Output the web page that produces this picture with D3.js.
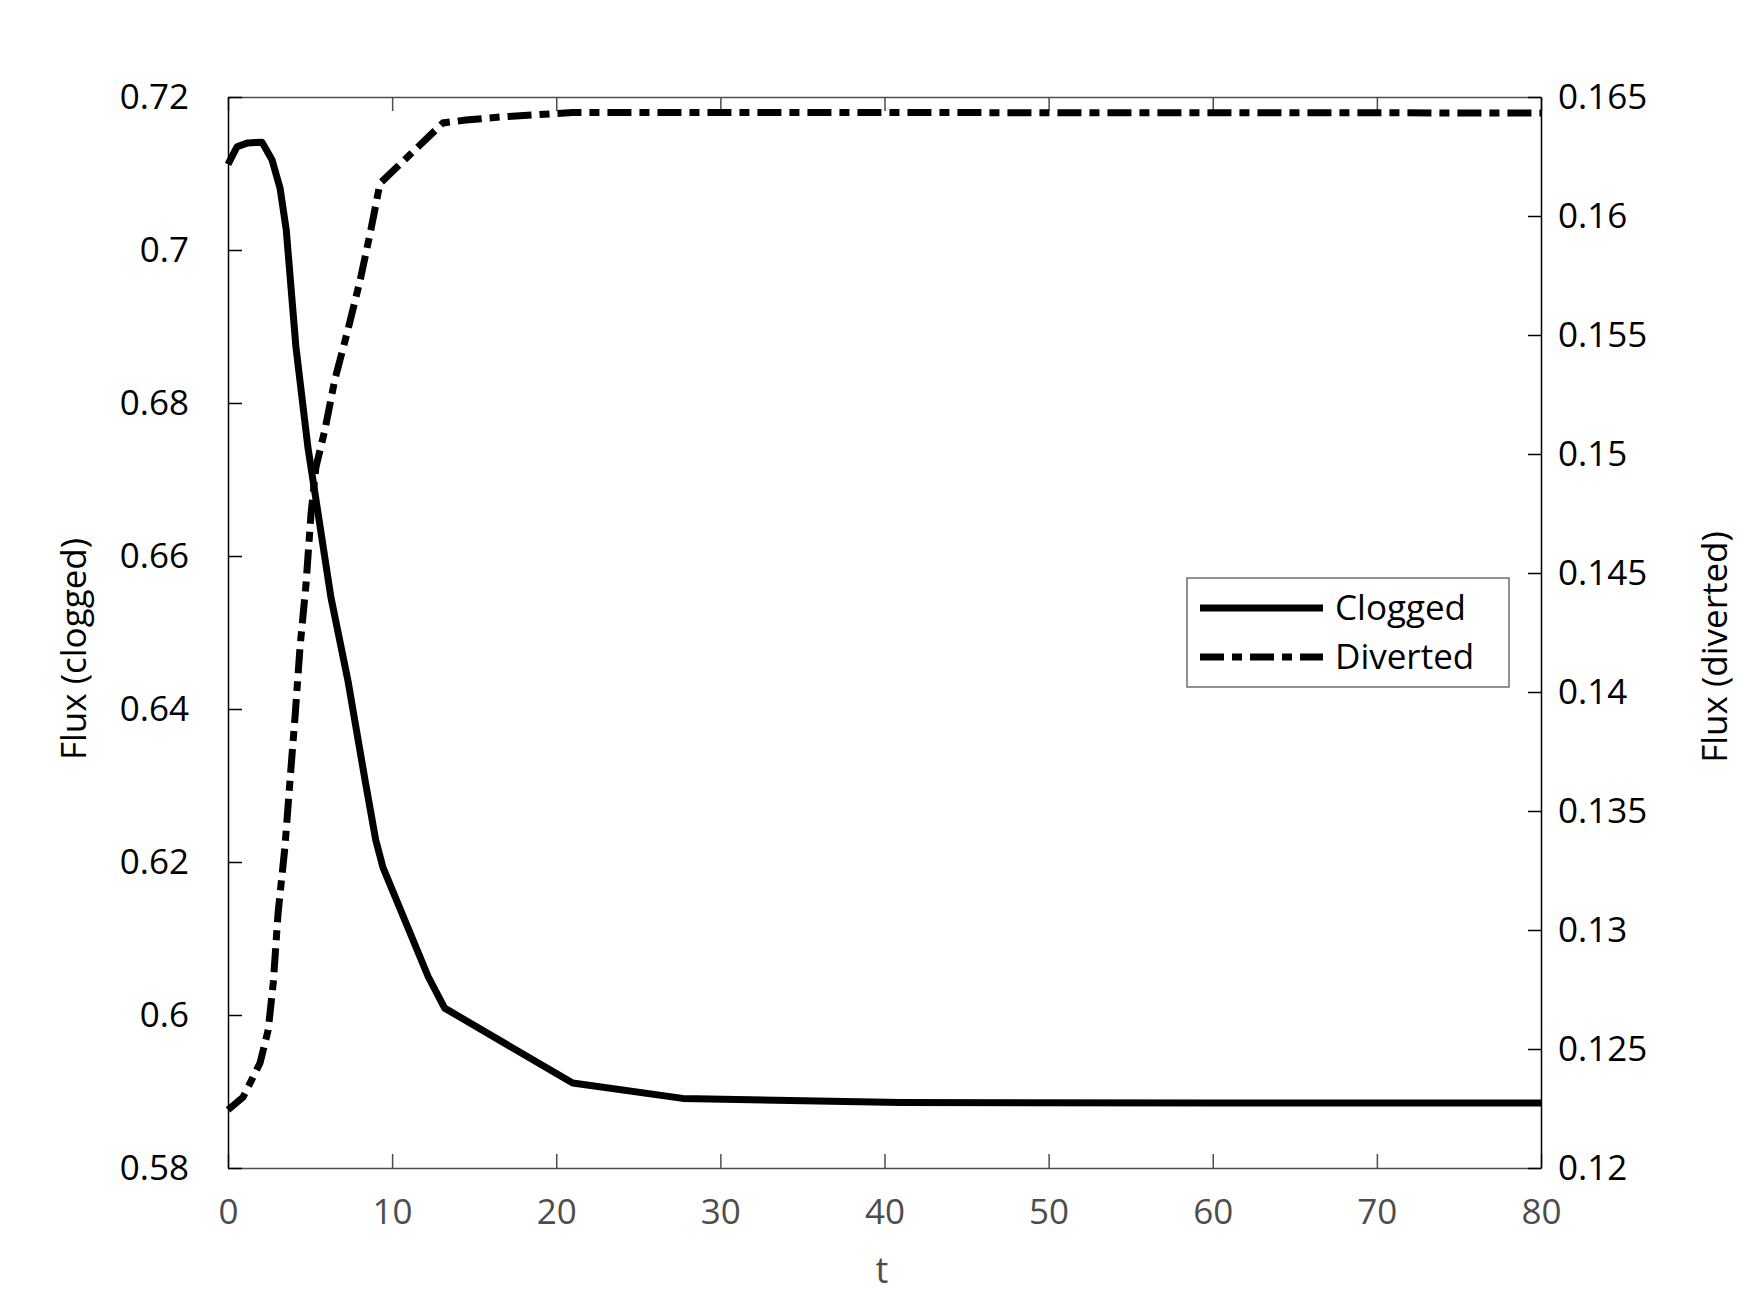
<!DOCTYPE html>
<html>
<head>
<meta charset="utf-8">
<script src="https://cdn.jsdelivr.net/npm/d3@7"></script>
<style>
  body { margin: 0; background: #fff; }
</style>
</head>
<body>
<div id="chart"></div>
<script>
// clogged flux, read against the left axis
const cloggedT    = [0, 0.55, 1.2, 2.07, 2.68, 3.17, 3.55, 4.14, 4.87, 5.3, 6.27, 7.3, 8.35, 9.0, 9.44, 12.2, 13.2, 21.0, 27.7, 41, 60, 80]
const cloggedFlux = [0.7112, 0.7135, 0.7140, 0.7141, 0.7118, 0.7081, 0.7026, 0.6873, 0.6742, 0.6682, 0.6546, 0.6438, 0.6307, 0.6229, 0.6193, 0.6050, 0.6009, 0.5911, 0.5891, 0.58855, 0.5885, 0.5885]

// diverted flux, read against the right axis
const divertedT    = [0, 0.92, 1.95, 2.45, 2.76, 3.05, 3.47, 3.78, 4.1, 4.39, 4.75, 5.06, 5.36, 5.9, 6.5, 7.3, 8.05, 8.7, 9.26, 13.1, 14.5, 16.6, 21, 30, 80]
const divertedFlux = [0.12244, 0.12298, 0.12441, 0.1258, 0.1278, 0.1307, 0.1335, 0.1363, 0.1391, 0.1419, 0.1445, 0.1475, 0.14945, 0.1510, 0.1531, 0.1552, 0.1573, 0.1594, 0.16137, 0.16391, 0.16403, 0.16416, 0.16435, 0.16435, 0.16433]

const xTicks     = [0, 10, 20, 30, 40, 50, 60, 70, 80]
const leftTicks  = [0.58, 0.6, 0.62, 0.64, 0.66, 0.68, 0.7, 0.72]
const rightTicks = [0.12, 0.125, 0.13, 0.135, 0.14, 0.145, 0.15, 0.155, 0.16, 0.165]
const seriesNames = ["Clogged", "Diverted"]

const svgWidth = 1750
const svgHeight = 1313
const plot = { left: 228, top: 97, right: 1541, bottom: 1168 }
const font = "'Open Sans', sans-serif"
const fontSize = 35
const greyAxis = "#4d4d4d"
const dashDot = "24,8,10,8"

const svg = d3.select("#chart").append("svg")
  .attr("width", svgWidth)
  .attr("height", svgHeight)

const xScale = d3.scaleLinear().domain([0, 80]).range([plot.left, plot.right])
const yLeft = d3.scaleLinear().domain([0.58, 0.72]).range([plot.bottom, plot.top])
const yRight = d3.scaleLinear().domain([0.12, 0.165]).range([plot.bottom, plot.top])

function styleAxis(g, color) {
  g.attr("color", color)
    .attr("font-family", font)
    .attr("font-size", fontSize)
  g.selectAll("path, line").attr("stroke-width", 1.5)
}

//bottom axis, ticks pointing up
svg.append("g")
  .attr("transform", "translate(0," + plot.bottom + ")")
  .call(d3.axisBottom(xScale).tickValues(xTicks).tickSizeInner(-14).tickSizeOuter(0).tickPadding(31))
  .call(g => styleAxis(g, greyAxis))

//top border with the same ticks, no labels
svg.append("g")
  .attr("transform", "translate(0," + plot.top + ")")
  .call(d3.axisTop(xScale).tickValues(xTicks).tickSizeInner(-14).tickSizeOuter(0).tickFormat(""))
  .call(g => styleAxis(g, greyAxis))

//left axis
svg.append("g")
  .attr("transform", "translate(" + plot.left + ",0)")
  .call(d3.axisLeft(yLeft).tickValues(leftTicks).tickSizeInner(-14).tickSizeOuter(0).tickPadding(39).tickFormat(d3.format(".2~f")))
  .call(g => styleAxis(g, "#000"))

//right axis
svg.append("g")
  .attr("transform", "translate(" + plot.right + ",0)")
  .call(d3.axisRight(yRight).tickValues(rightTicks).tickSizeInner(-13).tickSizeOuter(0).tickPadding(17).tickFormat(d3.format(".3~f")))
  .call(g => styleAxis(g, "#000"))

//axis titles
svg.append("text")
  .attr("x", 882).attr("y", 1283)
  .attr("text-anchor", "middle")
  .attr("font-family", font).attr("font-size", 36)
  .attr("fill", greyAxis)
  .text("t")

svg.append("text")
  .attr("transform", "translate(86,649) rotate(-90)")
  .attr("text-anchor", "middle")
  .attr("font-family", font).attr("font-size", fontSize)
  .text("Flux (clogged)")

svg.append("text")
  .attr("transform", "translate(1727,647) rotate(-90)")
  .attr("text-anchor", "middle")
  .attr("font-family", font).attr("font-size", fontSize)
  .text("Flux (diverted)")

//the two curves
const cloggedLine = d3.line()
  .x(i => xScale(cloggedT[i]))
  .y(i => yLeft(cloggedFlux[i]))

const divertedLine = d3.line()
  .x(i => xScale(divertedT[i]))
  .y(i => yRight(divertedFlux[i]))

svg.append("path")
  .datum(d3.range(cloggedT.length))
  .attr("d", cloggedLine)
  .attr("fill", "none")
  .attr("stroke", "#000")
  .attr("stroke-width", 7)
  .attr("stroke-linejoin", "round")

svg.append("path")
  .datum(d3.range(divertedT.length))
  .attr("d", divertedLine)
  .attr("fill", "none")
  .attr("stroke", "#000")
  .attr("stroke-width", 7)
  .attr("stroke-dasharray", dashDot)

//legend
const legend = svg.append("g").attr("transform", "translate(1187,578)")
legend.append("rect")
  .attr("width", 322).attr("height", 109)
  .attr("fill", "#fff")
  .attr("stroke", "#6e6e6e")
  .attr("stroke-width", 1.5)

seriesNames.forEach((name, i) => {
  const y = 30 + i * 49
  legend.append("line")
    .attr("x1", 13).attr("x2", 136)
    .attr("y1", y).attr("y2", y)
    .attr("stroke", "#000")
    .attr("stroke-width", 7)
    .attr("stroke-dasharray", i === 1 ? dashDot : null)
  legend.append("text")
    .attr("x", 148).attr("y", y)
    .attr("dy", "0.35em")
    .attr("font-family", font).attr("font-size", fontSize)
    .text(name)
})
</script>
</body>
</html>
